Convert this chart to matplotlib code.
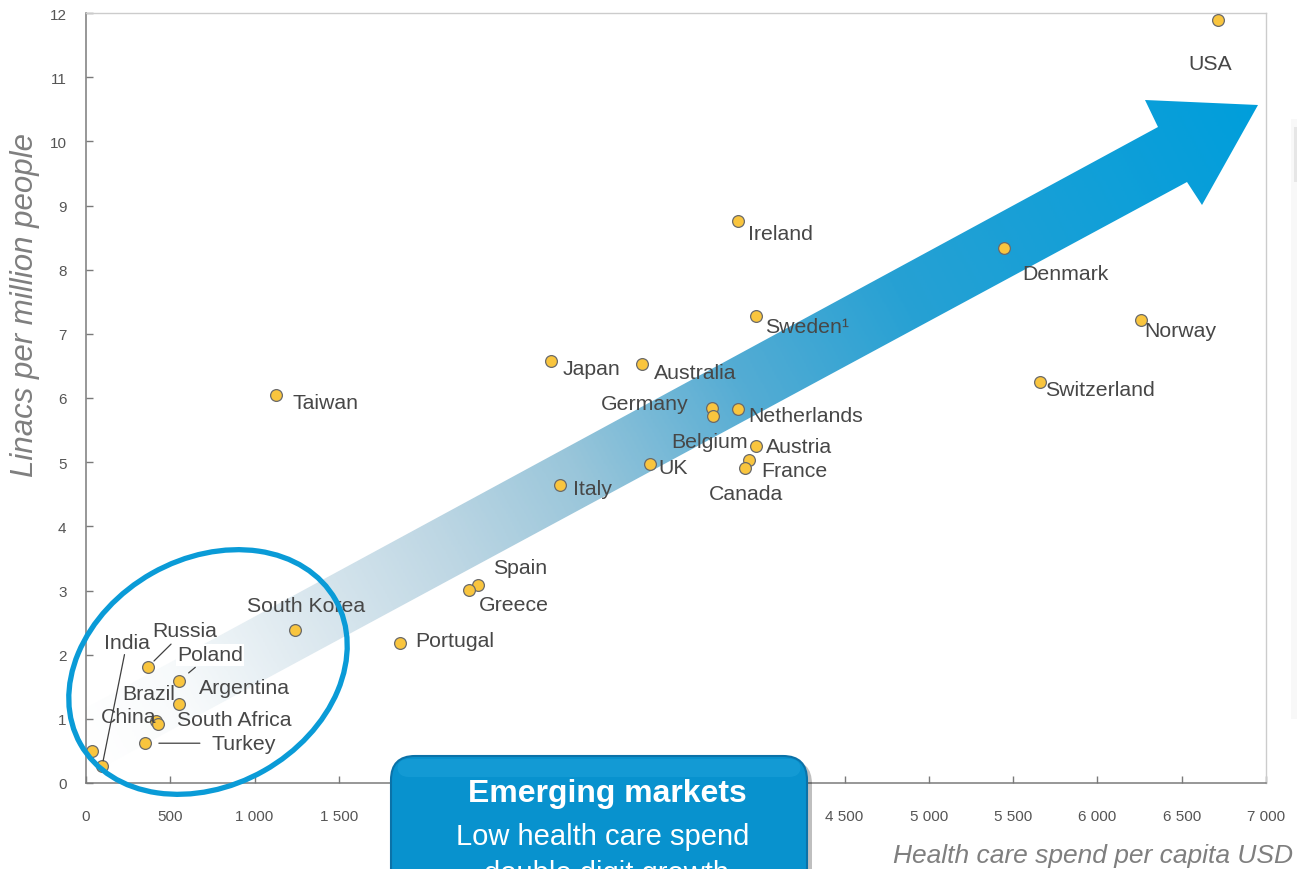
import numpy as np
import matplotlib
matplotlib.use("Agg")
import matplotlib.pyplot as plt
from matplotlib.patches import Polygon, Ellipse, FancyBboxPatch, Rectangle
from matplotlib.transforms import Affine2D
from matplotlib.colors import LinearSegmentedColormap

plt.rcParams['font.family'] = ['Liberation Sans', 'DejaVu Sans']

# ---------------- data ----------------
countries = ["USA", "Ireland", "Denmark", "Sweden\u00b9", "Norway", "Switzerland",
             "Japan", "Australia", "Taiwan", "Germany", "Belgium", "Netherlands",
             "Austria", "France", "Canada", "UK", "Italy", "Spain", "Greece",
             "Portugal", "South Korea", "Russia", "Poland", "Argentina", "Brazil",
             "South Africa", "China", "Turkey", "India"]
spend = [6715, 3868, 5446, 3975, 6258, 5659,
         2758, 3298, 1127, 3714, 3720, 3868,
         3975, 3933, 3909, 3346, 2812, 2325, 2272,
         1863, 1240, 368, 552, 552, 415,
         427, 36, 350, 95]
linacs = [11.89, 8.76, 8.34, 7.28, 7.22, 6.25,
          6.58, 6.53, 6.05, 5.84, 5.72, 5.83,
          5.25, 5.03, 4.91, 4.97, 4.64, 3.09, 3.01,
          2.18, 2.38, 1.81, 1.59, 1.23, 0.97,
          0.92, 0.50, 0.62, 0.26]
xticks = list(range(0, 7001, 500))
xtick_labels = ["0", "500", "1 000", "1 500", "2 000", "2 500", "3 000", "3 500",
                "4 000", "4 500", "5 000", "5 500", "6 000", "6 500", "7 000"]
yticks = list(range(0, 13))

# label placement: (dx px, dy px, ha)
label_pos = {
    "USA": (-30, -43, "left"), "Ireland": (10, -13, "left"), "Denmark": (18, -26, "left"),
    "Sweden\u00b9": (9, -11, "left"), "Norway": (3, -11, "left"), "Switzerland": (5, -8, "left"),
    "Japan": (12, -8, "left"), "Australia": (12, -9, "left"), "Taiwan": (17, -8, "left"),
    "Germany": (-24, 5, "right"), "Belgium": (35, -26, "right"), "Netherlands": (10, -7, "left"),
    "Austria": (10, 0, "left"), "France": (12, -10, "left"), "Canada": (1, -26, "center"),
    "UK": (8, -3, "left"), "Italy": (13, -3, "left"), "Spain": (15, 17, "left"),
    "Greece": (10, -15, "left"), "Portugal": (15, 3, "left"), "South Korea": (11, 25, "center"),
    "Russia": (4, 36, "left"), "Poland": (-2, 26, "left"), "Argentina": (20, 17, "left"),
    "Brazil": (19, 27, "right"), "South Africa": (19, 4, "left"), "China": (9, 34, "left"),
    "Turkey": (66, 0, "left"), "India": (2, 124, "left"),
}
leaders = {"India": (0, 4), "Russia": (1, 6), "Poland": (2, 9), "Turkey": (6, 10)}

W, H = 1297, 870
fig = plt.figure(figsize=(W / 100, H / 100), dpi=100)
L, R, T, B = 86, 1266, 14, 784
ax = fig.add_axes([L / W, 1 - B / H, (R - L) / W, (B - T) / H])
ax.set_xlim(0, 7000)
ax.set_ylim(0, 12)

# pixel transform (origin top-left)
T_px = Affine2D().scale(1 / W, -1 / H).translate(0, 1) + fig.transFigure

# ---- gradient arrow ----
arrow_pts = [(86, 709), (1158, 128), (1145, 101), (1258, 106), (1202, 206), (1187, 183), (86, 777)]
arrow = Polygon(arrow_pts, closed=True, transform=T_px, facecolor='none', edgecolor='none')
ax.add_patch(arrow)
xs = np.linspace(L, R, 600)
ys = np.linspace(T, B, 400)
X, Y = np.meshgrid(xs, ys)
d = np.array([1172.0, -638.0])
t = ((X - 86) * d[0] + (Y - 744) * d[1]) / (d @ d)
t = np.clip(t, 0, 1)
stops = [(0.0, (1, 1, 1)), (0.08, (0.97, 0.98, 0.985)), (0.18, (0.87, 0.915, 0.94)),
         (0.30, (0.75, 0.845, 0.895)), (0.42, (0.60, 0.775, 0.855)),
         (0.56, (0.33, 0.675, 0.83)), (0.70, (0.15, 0.63, 0.83)), (1.0, (0.0, 0.62, 0.86))]
cmap = LinearSegmentedColormap.from_list("arr", stops)
im = ax.imshow(cmap(t), extent=[0, 7000, 0, 12], origin='upper', aspect='auto',
               interpolation='bilinear', zorder=1)
im.set_clip_path(arrow)

# ---- points ----
ax.scatter(spend, linacs, s=72, facecolor='#F9C53E', edgecolor='#6a6a6a',
           linewidth=0.9, zorder=3)

# ---- labels ----
for name, x, y in zip(countries, spend, linacs):
    dx, dy, ha = label_pos[name]
    kw = {}
    if name in leaders:
        sa, sb = leaders[name]
        kw['arrowprops'] = dict(arrowstyle='-', color='#404040', lw=0.9,
                                shrinkA=sa, shrinkB=sb)
    bbox = None
    if name == "Poland":
        bbox = dict(boxstyle='square,pad=0.05', fc='white', ec='none')
    ax.annotate(name, (x, y), xytext=(dx, dy), textcoords='offset pixels',
                ha=ha, va='center', fontsize=15.3, color='#474747', zorder=4,
                bbox=bbox, **kw)

# ---- axes styling ----
for s in ['left', 'bottom']:
    ax.spines[s].set_color('#7a7a7a')
    ax.spines[s].set_linewidth(1.1)
for s in ['top', 'right']:
    ax.spines[s].set_color('#cccccc')
    ax.spines[s].set_linewidth(1.0)
ax.set_xticks(xticks)
ax.set_xticklabels(xtick_labels)
ax.set_yticks(yticks)
ax.tick_params(axis='both', direction='in', length=5, width=1, color='#7a7a7a',
               labelcolor='#555555', labelsize=11)
ax.tick_params(axis='x', pad=19)
ax.tick_params(axis='y', pad=14)
ax.tick_params(top=False, right=False)

fig.text(1293 / W, 1 - 856 / H, "Health care spend per capita USD", ha='right', va='center',
         fontsize=19, style='italic', color='#7f7f7f')
fig.text(25 / W, 1 - 305 / H, "Linacs per million people", ha='center', va='center',
         rotation=90, fontsize=22.5, style='italic', color='#7f7f7f')

# ---- ellipse ----
ell = Ellipse((208, 673), 293, 227, angle=-29.5, transform=T_px, fill=False,
              edgecolor='#0A9BD7', linewidth=3.8, zorder=5, clip_on=False)
ax.add_patch(ell)

# ---- right edge faint shape ----
ax.add_patch(Rectangle((1291, 120), 12, 600, transform=T_px, facecolor='#f8f8f8',
                       edgecolor='none', zorder=0, clip_on=False))
ax.add_patch(Rectangle((1294, 128), 8, 55, transform=T_px, facecolor='#e6e6e6',
                       edgecolor='none', zorder=0, clip_on=False))

# ---- box ----
shadow = FancyBboxPatch((395, 761), 417, 160, boxstyle='round,pad=0,rounding_size=24',
                        transform=T_px, facecolor='#000000', alpha=0.25, edgecolor='none',
                        zorder=6, clip_on=False)
ax.add_patch(shadow)
box = FancyBboxPatch((391, 757), 416, 160, boxstyle='round,pad=0,rounding_size=24',
                     transform=T_px, facecolor='#0892CE', edgecolor='#0B72A8',
                     linewidth=1.5, zorder=6.1, clip_on=False)
ax.add_patch(box)
hl = FancyBboxPatch((397, 760), 404, 18, boxstyle='round,pad=0,rounding_size=12',
                    transform=T_px, facecolor='#2AAAE0', edgecolor='none', alpha=0.35,
                    zorder=6.2, clip_on=False)
ax.add_patch(hl)
ax.text(607, 794, "Emerging markets", transform=T_px, ha='center', va='center',
        fontsize=23, fontweight='bold', color='white', zorder=7, clip_on=False)
ax.text(603, 837, "Low health care spend", transform=T_px, ha='center', va='center',
        fontsize=21, color='white', zorder=7, clip_on=False)
ax.text(607, 874, "double digit growth", transform=T_px, ha='center', va='center',
        fontsize=21, color='white', zorder=7, clip_on=False)

fig.savefig("out.png", dpi=100)
